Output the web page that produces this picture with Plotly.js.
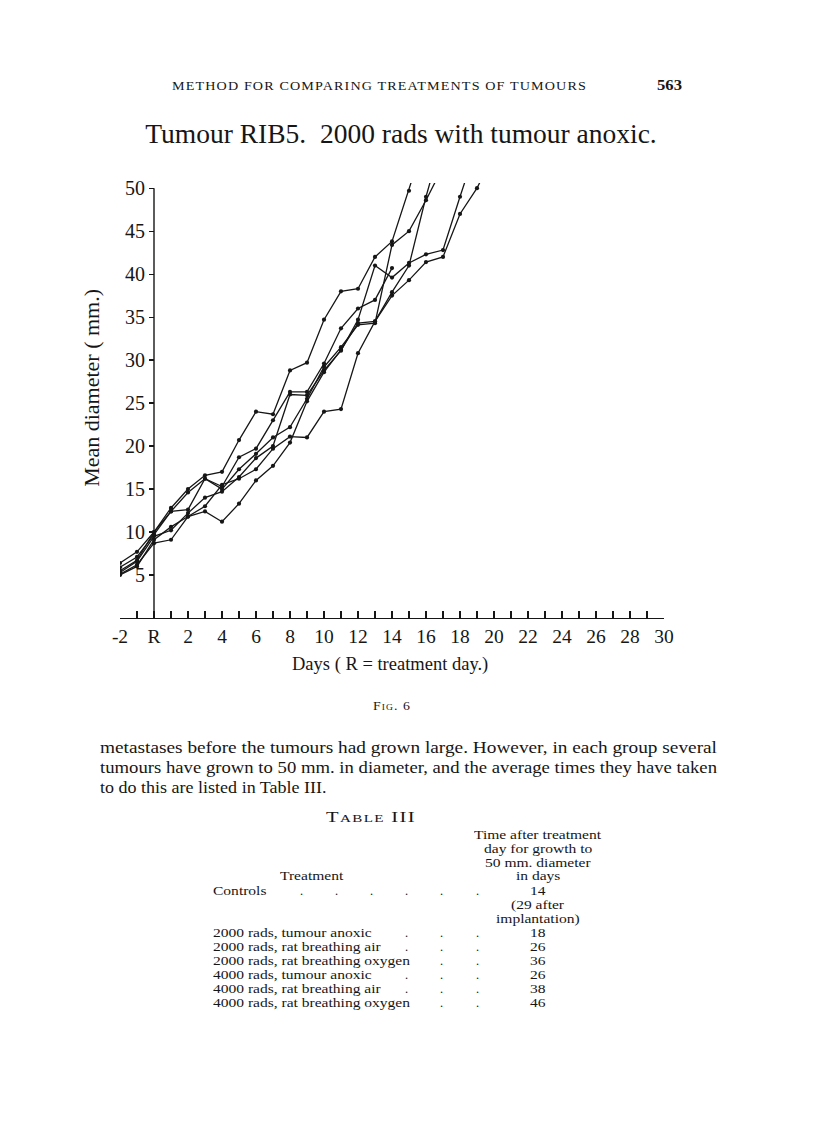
<!DOCTYPE html>
<html><head><meta charset="utf-8">
<script src="https://cdn.plot.ly/plotly-3.0.1.min.js"></script>
<style>
html,body{margin:0;padding:0;background:#fff;}
#page{position:relative;width:816px;height:1136px;overflow:hidden;background:#fff;}
#chart{position:absolute;left:0;top:0;width:816px;height:1136px;}
.t{position:absolute;white-space:nowrap;font-family:"Liberation Serif","DejaVu Serif",serif;color:#161616;}
</style></head><body><div id="page"><div id="chart"></div></div>
<script>
// ---------- data (mean diameter, mm; x = day, R = day 0) ----------
const days = [-2,-1,0,1,2,3,4,5,6,7,8,9,10,11,12,13,14,15,16,17,18,19,20];
const tumour1 = [6.4,7.7,10.0,12.8,15.0,16.6,17.0,20.7,24.0,23.7,28.8,29.7,34.7,38.0,38.3,42.0,43.8,49.7,56.0];
const tumour2 = [5.9,7.1,9.7,12.4,14.6,16.2,15.3,18.7,19.7,23.0,26.3,26.3,29.6,33.7,36.0,37.0,40.7];
const tumour3 = [5.5,6.7,10.0,12.4,12.6,16.2,15.0,17.3,19.1,21.0,22.2,25.5,29.2,31.5,34.1,34.3,43.4,45.0,48.6,52.5];
const tumour4 = [5.3,6.6,9.5,10.2,12.2,14.0,14.7,16.4,18.6,20.0,26.0,25.9,28.8,31.1,34.7,41.0,39.6,41.3,42.3,42.8,49.0,55.0];
const tumour5 = [5.1,6.2,8.7,9.1,11.8,12.4,11.2,13.3,16.0,17.7,20.4,25.2,28.6,31.2,34.3,34.5,37.9,41.0,49.0,56.0];
const tumour6 = [5.0,6.0,9.1,10.6,11.8,13.0,15.5,16.2,17.3,19.7,21.1,21.0,24.0,24.3,30.8,34.5,37.5,39.3,41.4,42.0,47.0,50.0,54.0];
const seriesList = [tumour1,tumour2,tumour3,tumour4,tumour5,tumour6];

const xTickVals = [-2,0,2,4,6,8,10,12,14,16,18,20,22,24,26,28,30];
const xTickText = ['-2','R','2','4','6','8','10','12','14','16','18','20','22','24','26','28','30'];
const yTickVals = [5,10,15,20,25,30,35,40,45,50];

// Table III
const treatments = ['Controls','2000 rads, tumour anoxic','2000 rads, rat breathing air','2000 rads, rat breathing oxygen','4000 rads, tumour anoxic','4000 rads, rat breathing air','4000 rads, rat breathing oxygen'];
const daysTo50 = ['14','18','26','36','26','38','46'];

// ---------- chart ----------
const FONT = '"Liberation Serif", "DejaVu Serif", serif';
const INK = '#161616';
const traces = seriesList.map((v,i)=>({
  type:'scatter', mode:'lines+markers', name:'Tumour '+(i+1),
  x: days.slice(0, v.length), y: v,
  line:{color:INK, width:1.3}, marker:{color:INK, size:4.2},
  showlegend:false, hoverinfo:'skip'
}));

const layout = {
  width:816, height:1136,
  margin:{l:120, r:152, t:183, b:518, pad:0},
  paper_bgcolor:'rgba(0,0,0,0)', plot_bgcolor:'rgba(0,0,0,0)',
  showlegend:false,
  title:{text:'Tumour RIB5.  2000 rads with tumour anoxic.', x:0.4914, xanchor:'center', y:0.8829, yanchor:'middle', yref:'container',
         font:{family:FONT, size:27.5, color:INK}},
  xaxis:{range:[-2,30], showline:true, linecolor:INK, linewidth:1.4, showgrid:false, zeroline:false,
         ticks:'inside', ticklen:7, tickwidth:1.2, tickcolor:INK,
         tickmode:'array', tickvals:xTickVals, ticktext:xTickText,
         tickfont:{family:FONT, size:19.5, color:INK},
         minor:{dtick:1, tick0:0, ticks:'inside', ticklen:7, tickwidth:1.2, tickcolor:INK, showgrid:false},
         fixedrange:true},
  yaxis:{range:[0,50.6], anchor:'free', position:0.0625, showline:false, showgrid:false, zeroline:false,
         ticks:'outside', ticklen:5, tickwidth:1.2, tickcolor:INK,
         tickmode:'array', tickvals:yTickVals,
         tickfont:{family:FONT, size:20, color:INK}, fixedrange:true},
  shapes:[{type:'line', xref:'x', yref:'y', x0:0, x1:0, y0:0, y1:50, line:{color:INK, width:1.4}}],
  annotations:[
    {text:'Days ( R = treatment day.)', xref:'paper', yref:'paper', x:0.496, y:-0.108, xanchor:'center', yanchor:'middle',
     showarrow:false, font:{family:FONT, size:18.5, color:INK}},
    {text:'Mean diameter ( mm.)', xref:'paper', yref:'paper', x:-0.0515, y:0.529, xanchor:'center', yanchor:'middle',
     textangle:-90, showarrow:false, font:{family:FONT, size:22, color:INK}}
  ]
};
Plotly.newPlot('chart', traces, layout, {displayModeBar:false, staticPlot:true});

// ---------- page text ----------
const page = document.getElementById('page');
function measure(t, size){
  const d = document.createElement('div');
  d.className = 't'; d.textContent = t; d.style.fontSize = size+'px';
  page.appendChild(d);
  const w = d.getBoundingClientRect().width;
  page.removeChild(d);
  return w;
}
function addText(t, o){
  const d = document.createElement('div');
  d.className = 't'; d.textContent = t;
  d.style.fontSize = o.size+'px'; d.style.lineHeight = o.size+'px';
  if (o.variant) d.style.fontVariant = o.variant;
  if (o.weight) d.style.fontWeight = o.weight;
  if (o.ls) d.style.letterSpacing = o.ls+'px';
  page.appendChild(d);
  const nat = d.getBoundingClientRect().width;
  const sx = o.w ? o.w/nat : (o.k || 1);
  const left = o.anchor === 'center' ? o.x - nat*sx/2 : o.x;
  d.style.left = left+'px';
  d.style.top = (o.y - o.size*0.55)+'px';
  d.style.transformOrigin = '0 0';
  d.style.transform = 'scaleX('+sx+')';
}
addText('METHOD FOR COMPARING TREATMENTS OF TUMOURS', {x:172, y:87, w:415, size:12.5, ls:1});
addText('563', {x:657, y:86, w:25, size:15, weight:'bold'});
addText('Fig. 6', {x:392, y:706, w:38, size:13, variant:'small-caps', ls:1, anchor:'center'});
addText('metastases before the tumours had grown large.   However, in each group several', {x:100, y:748, w:617, size:17});
addText('tumours have grown to 50 mm. in diameter, and the average times they have taken', {x:100, y:768, w:617, size:17});
addText('to do this are listed in Table III.', {x:100, y:788, k:1.06, size:17});
addText('Table III', {x:371, y:818, w:90, size:15, variant:'small-caps', ls:1, anchor:'center'});

const TS = 12.5;
const k = 197 / measure('2000 rads, rat breathing oxygen', TS);
const colC = 538;
addText('Time after treatment', {x:colC, y:836, k:k, size:TS, anchor:'center'});
addText('day for growth to', {x:colC, y:850, k:k, size:TS, anchor:'center'});
addText('50 mm. diameter', {x:colC, y:864, k:k, size:TS, anchor:'center'});
addText('in days', {x:colC, y:877, k:k, size:TS, anchor:'center'});
addText('Treatment', {x:312, y:877, k:k, size:TS, anchor:'center'});
const rowY = [892, 934, 948, 962, 976, 990, 1004];
const dotX = {0:[300,335,370,405,440,476], 1:[405,440,476], 2:[405,440,476], 3:[440,476], 4:[405,440,476], 5:[405,440,476], 6:[440,476]};
treatments.forEach((tr,i)=>{
  addText(tr, {x:213, y:rowY[i], k:k, size:TS});
  dotX[i].forEach(dx=>addText('.', {x:dx, y:rowY[i], size:TS}));
  addText(daysTo50[i], {x:colC, y:rowY[i], k:k, size:TS, anchor:'center'});
});
addText('(29 after', {x:colC, y:906, k:k, size:TS, anchor:'center'});
addText('implantation)', {x:colC, y:920, k:k, size:TS, anchor:'center'});
</script></body></html>
